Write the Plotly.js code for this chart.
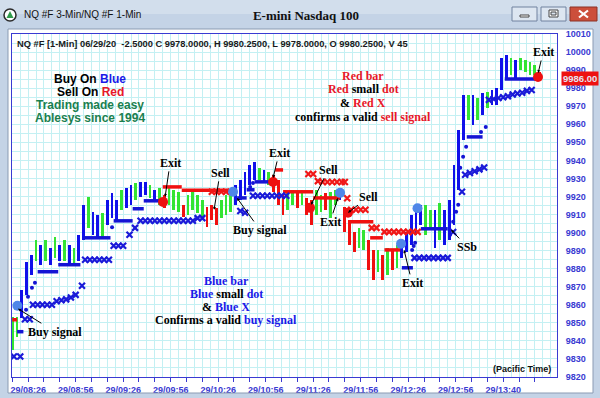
<!DOCTYPE html>
<html><head><meta charset="utf-8">
<script src="https://cdn.plot.ly/plotly-3.0.1.min.js"></script>
<style>html,body{margin:0;padding:0;background:#fff;overflow:hidden}#chart{width:600px;height:398px}</style>
</head><body><div id="chart"></div>
<script>
// ---- axis ticks (minutes from 08:26) ----
const tickMinutes = [0,10,20,30,40,50,60,70,80,90,100,110,120,130,140,150,160,170,180,190,200,210,220,230,240,250,260,270,280,290,300,310,320,330];
const tickLabels = ['29/08:26','','','29/08:56','','','29/09:26','','','29/09:56','','','29/10:26','','','29/10:56','','','29/11:26','','','29/11:56','','','29/12:26','','','29/12:56','','','29/13:40','','',''];

// ---- price bars (one every 3 minutes) ----
const barHigh = [9853.5,9853,9868.3,9883.7,9887.6,9896,9893,9896,9891.5,9897.7,9893,9896,9893,9891.5,9898.5,9915.2,9919.8,9911.5,9909.8,9911,
9918,9922,9918,9923.7,9924.8,9926.5,9927.6,9928.1,9928.1,9926.4,9923.7,9924.8,9921,9924.8,9923.7,9922.6,9915.4,9920.9,9923.7,9920.9,
9918.1,9914.3,9915.4,9913.7,9918.1,9920.9,9920.9,9926.4,9929.2,9933.6,9937.5,9939.2,9935.9,9934.7,9933.6,9932,9929.2,9921,9922.6,9923.7,
9922,9923.7,9919,9918.1,9923.7,9920.9,9922,9922.6,9923.7,9923.7,9914.3,9907.1,9900.4,9902.5,9901.5,9896,9890.4,9890.4,9887.6,9891.5,
9890.4,9893.2,9896,9900.4,9909.8,9915.4,9915.4,9915.4,9912.6,9912.6,9916.5,9912.6,9918.1,9937.5,9956.9,9976.3,9976.3,9976.3,9974.6,9977.4,
9977.9,9979,9980.1,9996.7,9998.4,9996.7,9995.6,9996.7,9995.6,9994.5,9992.8,9989];
const barLow = [9835,9842,9852.7,9865.5,9876.5,9884,9882,9884,9882,9886,9884,9884,9883,9882,9884,9896,9902.5,9898.8,9897.7,9897.7,
9904.3,9908,9907,9912.6,9913.7,9915.4,9918.1,9919.8,9920.9,9919.2,9918.1,9915.4,9913.7,9915.4,9912.6,9911.5,9908.7,9909.8,9912.6,9910.9,
9908.1,9903.2,9907.1,9904.3,9908.1,9909.8,9911.5,9915.4,9918.1,9920.9,9926.4,9929.2,9929.2,9927.5,9926.4,9922.6,9915.4,9909.8,9912.6,9915.4,
9913.7,9915.4,9909.8,9904.3,9909.8,9911.5,9912.6,9908.1,9915.4,9918.1,9900.4,9893.2,9889.3,9891.5,9890.4,9879.4,9873.8,9878.2,9873.8,9876.6,
9879.4,9880.5,9886,9889.3,9893.2,9898.8,9904.3,9898.8,9901.5,9891.5,9895.9,9893.2,9895.9,9904.3,9923.7,9951.3,9962.4,9959.6,9962.4,9965.2,
9969.1,9970.7,9970.7,9979,9984.5,9987.3,9985.6,9990,9989,9987.3,9987.3,9984.5];
const barColorCode = ['G','G','B','B','B','G','B','G','B','G','B','G','B','G','B','B','G','B','B','G',
'B','B','B','G','B','B','G','B','B','G','B','G','R','G','G','G','R','G','G','G',
'G','R','R','R','G','G','G','B','B','B','B','B','G','B','G','R','R','R','G','G',
'R','G','R','R','G','G','R','G','G','B','R','R','R','G','G','R','R','G','R','G',
'R','G','B','B','B','B','B','G','G','B','G','B','B','B','B','B','G','B','G','B',
'G','B','B','B','B','G','B','G','G','G','G','R'];

// ---- stop lines (start minute, end minute, price) ----
const blueStopStart = [3,16,29,45,64,76,83,142,148,153,246,258,287,311];
const blueStopEnd   = [7,29,43,62,76,83,95,148,153,162,253,275,297,331];
const blueStopPrice = [9845.1,9878.3,9882.2,9897.1,9906.5,9913.2,9917.6,9919.2,9923.7,9928.1,9880.5,9902.1,9953,9985.1];
const redStopStart = [0,95,107,166,171,190,213,226,235];
const redStopEnd   = [3,107,137,171,190,207,228,234,245];
const redStopPrice = [9851.7,9925.3,9923.5,9934.7,9922.6,9919.2,9906,9897.1,9890.4];

// ---- X markers ----
const blueXMin = [1,5,8,11,13,16,19,22,25,28,31,34,37,40,44,46,49,52,55,58,61,64,67,70,74,77.5,
81,84,87,90,93,96,99,102,105,108,111,114,117,120,144,147,152,155,158,161,164,167,170,173,
254,257,260,263,266,269,272,275,278.4,284,286,289,292,295,298,301,304,307,310,313,316,319,322,325,328];
const blueXPrice = [9831.4,9831.4,9852,9852,9860,9860,9860,9860,9860,9862,9862.5,9863,9864,9865.5,9870.5,9885,9885,9885,9885,9885,9885,9892.7,9892.7,9892.7,9898.8,9902.6,
9906.5,9906.5,9906.5,9906.5,9906.5,9906.5,9906.5,9906.5,9906.5,9906.5,9906.5,9906.5,9908,9908,9912,9911,9920.4,9920.4,9920.4,9920.4,9920.4,9920.4,9920.4,9920.4,
9886,9886,9886,9886,9886,9886,9886,9886,9900.3,9922.6,9932,9933,9934,9935,9936,9973.5,9974,9974.5,9975,9975.5,9976.5,9977,9977.5,9978.5,9979];
const redXMin = [126,129,132,135,187,190,193,196,199,202,205,208,210,211.5,214,217,220,223,227,230,235,238,241,244,247,250,253,256];
const redXPrice = [9922.6,9922.6,9922.6,9922.6,9932.5,9932.5,9928.5,9928,9928,9928,9928,9928,9928,9919,9912.6,9912.6,9912.6,9912.6,9902.6,9902.6,9900.4,9900.4,9900.4,9900.4,9900.4,9900.4,9900.4,9900.4];

// ---- small blue dots ----
const blueDotMin = [8.7,9.9,12.4,14.3,63,150.2,152,252.5,253.5,254.4,276.5,278.4,280.3,281.6,282.9,284.7,286.6,296,299];
const blueDotPrice = [9857.2,9864.5,9869.4,9872.2,9903,9925.3,9927.5,9890.4,9892.5,9894.3,9898.8,9906,9911.5,9915.4,9935.9,9942,9947.5,9955.7,9958.5];

// ---- signal circles ----
const blueSigMin = [3.2,139.4,207,245.5,255.9];
const blueSigPrice = [9859.5,9922.6,9922,9893.8,9913.5];
const redSigMin = [95.2,164.7,188,212,332];
const redSigPrice = [9917,9928,9913.7,9911,9986.2];

const lastPrice = 9986;

// ---------------------------------------------------------------
const COLORS = {B:'#1010ea', G:'#33e433', R:'#f01010'};
const barX = barHigh.map((_, i) => i * 3);

function segs(s, e, p) {
  const x = [], y = [];
  s.forEach((v, i) => { x.push(v, e[i], null); y.push(p[i], p[i], null); });
  return {x, y};
}
const bs = segs(blueStopStart, blueStopEnd, blueStopPrice);
const rs = segs(redStopStart, redStopEnd, redStopPrice);

const traces = [
  {type:'bar', x: barX, base: barLow, y: barHigh.map((h, i) => h - barLow[i]), width: 1.75,
   marker:{color: barColorCode.map(c => COLORS[c]), line:{width:0}}, hoverinfo:'skip'},
  {type:'scatter', mode:'lines', x: bs.x, y: bs.y, line:{color:'#1414d4', width:3.5}, hoverinfo:'skip'},
  {type:'scatter', mode:'lines', x: rs.x, y: rs.y, line:{color:'#f01010', width:3.5}, hoverinfo:'skip'},
  {type:'scatter', mode:'markers', x: blueXMin, y: blueXPrice,
   marker:{symbol:'x-thin', size:6, line:{width:2.2, color:'#1a1ad8'}}, hoverinfo:'skip'},
  {type:'scatter', mode:'markers', x: redXMin, y: redXPrice,
   marker:{symbol:'x-thin', size:6, line:{width:2.2, color:'#f01818'}}, hoverinfo:'skip'},
  {type:'scatter', mode:'markers', x: blueDotMin, y: blueDotPrice,
   marker:{symbol:'circle', size:4, color:'#1414d4'}, hoverinfo:'skip'},
  {type:'scatter', mode:'markers', x: blueSigMin, y: blueSigPrice,
   marker:{symbol:'circle', size:10, color:'#4f86e8'}, hoverinfo:'skip'},
  {type:'scatter', mode:'markers', x: redSigMin, y: redSigPrice,
   marker:{symbol:'circle', size:10, color:'#ee1010'}, hoverinfo:'skip'}
];

// pixel -> paper helpers for the window chrome
const PX = x => (x - 12) / 545, PY = y => (377 - y) / 343;
function rect(x0, y0, x1, y1, fill, line) {
  return {type:'rect', xref:'paper', yref:'paper', x0:PX(x0), x1:PX(x1), y0:PY(y1), y1:PY(y0),
          fillcolor:fill, line:{color: line || fill, width: line ? 1 : 0}, layer:'above'};
}
function seg(x0, y0, x1, y1, color, w) {
  return {type:'line', xref:'paper', yref:'paper', x0:PX(x0), x1:PX(x1), y0:PY(y0), y1:PY(y1),
          line:{color, width:w}, layer:'above'};
}
const shapes = [
  rect(0, 0, 600, 14, '#d2deec'),
  rect(0, 14, 600, 29, '#c4d3e6'),
  rect(0, 29, 8, 398, '#c4d3e6'),
  rect(593, 29, 600, 398, '#c4d3e6'),
  rect(0, 393, 600, 398, '#c4d3e6'),
  seg(8, 29, 8, 393, '#8b9bb3', 1),
  seg(593, 29, 593, 393, '#8b9bb3', 1),
  seg(8, 393, 593, 393, '#8b9bb3', 1),
  seg(8, 29, 593, 29, '#8b9bb3', 1),
  {type:'circle', xref:'paper', yref:'paper', x0:PX(4), x1:PX(16), y0:PY(21), y1:PY(9), fillcolor:'#ffffff', line:{color:'#2a2a2a', width:1.5}, layer:'above'},
  {type:'path', xref:'paper', yref:'paper', path:`M ${PX(10)} ${PY(11)} L ${PX(13.5)} ${PY(18)} L ${PX(6.5)} ${PY(18)} Z`, fillcolor:'#2f9a4a', line:{width:0}, layer:'above'},
  rect(512, 7, 537, 21, '#dde6f1', '#71829f'),
  rect(541, 7, 566, 21, '#dde6f1', '#71829f'),
  rect(570, 7, 597, 21, '#cc4f3b', '#8b3226'),
  rect(520, 15, 529, 17, '#ffffff', '#444444'),
  rect(549, 10, 558, 17, '#ffffff', '#444444'),
  rect(551, 12, 556, 15, '#dde6f1', '#444444'),
  seg(579, 10.5, 588, 17.5, '#ffffff', 2.2),
  seg(579, 17.5, 588, 10.5, '#ffffff', 2.2)
];

const SERIF = 'Liberation Serif, Times New Roman, serif';
const SANS = 'Liberation Sans, Arial, sans-serif';
function label(text, x, y, ax, ay) {
  return {text:'<b>' + text + '</b>', x, y, xref:'x', yref:'y', showarrow:true, ax, ay,
          arrowhead:2, arrowsize:0.6, arrowwidth:1, arrowcolor:'#000',
          font:{family:SERIF, size:12, color:'#000'}};
}
function note(text, x, y, fam, size) {
  return {text:'<b>' + text + '</b>', x, y, xref:'x', yref:'y', showarrow:false,
          xanchor:'center', yanchor:'middle', font:{family:fam, size:size, color:'#000'}};
}
const BLUE = '#1a1ae8', RED = '#e8172a', GREEN = '#1b7f4f';
const sp = (c, t) => `<span style="color:${c}">${t}</span>`;

const annotations = [
  label('Buy signal', 3.6, 9857.8, 37, 23),
  label('Exit', 96.5, 9919.8, 5, -34),
  label('Sell', 127.4, 9912.6, 6, -37),
  label('Buy signal', 141.9, 9919.2, 23, 32),
  label('Exit', 164.7, 9930.3, 6, -25),
  label('Sell', 188.7, 9915.4, 17, -35),
  label('Exit', 205.7, 9919.2, -8, 24),
  label('Sell', 212, 9911, 21, -16),
  label('Exit', 247.4, 9890.4, 8, 33),
  label('SSb', 277.2, 9901.5, 16, 17),
  label('Exit', 332.1, 9988.4, 5, -21),
  note('Buy On ' + sp(BLUE, 'Blue'), 49.1, 9985.1, SANS, 12),
  note('Sell On ' + sp(RED, 'Red'), 49.1, 9977.9, SANS, 12),
  note(sp(GREEN, 'Trading made easy'), 49.1, 9970.7, SANS, 12),
  note(sp(GREEN, 'Ablesys since 1994'), 49.1, 9963.5, SANS, 12),
  note(sp(RED, 'Red bar'), 221.5, 9986.7, SERIF, 12),
  note(sp(RED, 'Red') + ' small ' + sp(RED, 'dot'), 221.5, 9979.5, SERIF, 12),
  note('&amp; ' + sp(RED, 'Red X'), 221.5, 9971.8, SERIF, 12),
  note('confirms a valid ' + sp(RED, 'sell signal'), 221.5, 9964.1, SERIF, 12),
  note(sp(BLUE, 'Blue bar'), 135, 9873.3, SERIF, 12),
  note(sp(BLUE, 'Blue') + ' small ' + sp(BLUE, 'dot'), 135, 9866.1, SERIF, 12),
  note('&amp; ' + sp(BLUE, 'Blue X'), 135, 9858.9, SERIF, 12),
  note('Confirms a valid ' + sp(BLUE, 'buy signal'), 135, 9851.7, SERIF, 12),
  {text:'<b>(Pacific Time)</b>', xref:'paper', yref:'paper', x:PX(553), y:PY(369), xanchor:'right', yanchor:'middle',
   showarrow:false, font:{family:SANS, size:9, color:'#111'}},
  {text:'<b>NQ #F [1-Min] 06/29/20  -2.5000 C 9978.0000, H 9980.2500, L 9978.0000, O 9980.2500, V 45</b>',
   xref:'paper', yref:'paper', x:PX(15), y:PY(44), xanchor:'left', yanchor:'middle', showarrow:false,
   font:{family:SANS, size:9.3, color:'#1a1a1a'}},
  {text:'NQ #F 3-Min/NQ #F 1-Min', xref:'paper', yref:'paper', x:PX(22), y:PY(15), xanchor:'left', yanchor:'middle',
   showarrow:false, font:{family:SANS, size:10, color:'#111'}},
  {text:'<b>' + lastPrice.toFixed(2) + '</b>', xref:'paper', yref:'paper', x:PX(561), y:PY(78), xanchor:'left', yanchor:'middle',
   showarrow:false, bgcolor:'#ee1111', borderpad:1, font:{family:SANS, size:9.5, color:'#e4e4f4'}}
];

const GRID = '#c4f0f3', AX = '#3a3ad2';
const layout = {
  width:600, height:398,
  margin:{l:12, r:43, t:34, b:21, pad:0},
  paper_bgcolor:'#ffffff', plot_bgcolor:'#ffffff',
  showlegend:false, barmode:'overlay', bargap:0,
  title:{text:'<b>E-mini Nasdaq 100</b>', xref:'container', yref:'container', x:0.51, y:1 - 15/398,
         xanchor:'center', yanchor:'middle', font:{family:SERIF, size:13, color:'#111'}},
  xaxis:{range:[-0.2, 344], tickmode:'array', tickvals:tickMinutes, ticktext:tickLabels,
         ticks:'outside', ticklen:4, tickwidth:1, tickcolor:AX, ticklabelshift:16,
         tickfont:{family:SANS, size:9, color:AX, weight:'bold'},
         showline:true, linecolor:AX, linewidth:1, mirror:true, zeroline:false,
         showgrid:true, gridcolor:GRID, gridwidth:1,
         minor:{tickmode:'linear', tick0:0, dtick:5, showgrid:true, gridcolor:GRID, ticks:''}},
  yaxis:{range:[9820, 10010], side:'right', tickmode:'linear', tick0:9820, dtick:10, ticks:'', tickformat:'d',
         ticklabelstandoff:6, tickfont:{family:SANS, size:9, color:AX, weight:'bold'},
         showline:true, linecolor:AX, linewidth:1, mirror:true, zeroline:false,
         showgrid:true, gridcolor:GRID, gridwidth:1,
         minor:{tickmode:'linear', tick0:9820, dtick:5, showgrid:true, gridcolor:GRID, ticks:''}},
  shapes, annotations
};
Plotly.newPlot('chart', traces, layout, {staticPlot:true, displayModeBar:false});
</script></body></html>
